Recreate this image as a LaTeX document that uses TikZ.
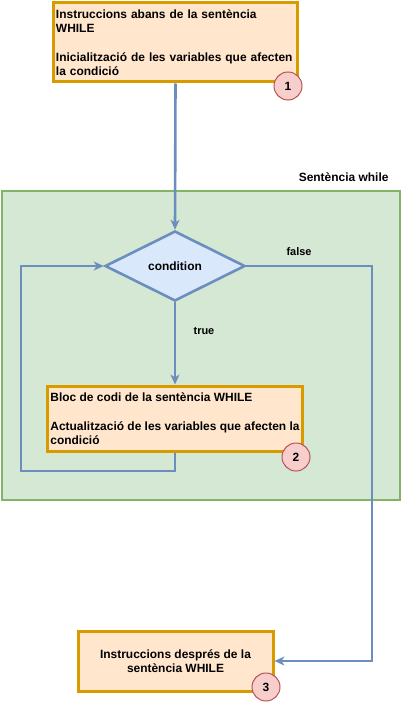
\documentclass[tikz,border=0pt]{standalone}
\usepackage{fontspec}
\setmainfont{Liberation Sans}
\usetikzlibrary{shapes.geometric,arrows.meta}

\definecolor{instrfill}{HTML}{FFE6CC}
\definecolor{instrline}{HTML}{D79B00}
\definecolor{condfill}{HTML}{DAE8FC}
\definecolor{flowline}{HTML}{6C8EBF}
\definecolor{loopfill}{HTML}{D5E8D4}
\definecolor{loopline}{HTML}{82B366}
\definecolor{badgefill}{HTML}{F8CECC}
\definecolor{badgeline}{HTML}{B85450}

\begin{document}
\begin{tikzpicture}[x=1bp,y=-1bp,
  every node/.style={font=\bfseries\fontsize{12}{14.4}\selectfont},
  instr/.style={rectangle,draw=instrline,fill=instrfill,line width=3bp,inner sep=2bp},
  cond/.style={diamond,draw=flowline,fill=condfill,line width=2.6bp,aspect=2,
    minimum width=140bp,minimum height=70bp,inner sep=0pt},
  badge/.style={circle,draw=badgeline,fill=badgefill,line width=1bp,minimum size=28bp,inner sep=0pt},
  lbl/.style={font=\bfseries\fontsize{11}{13}\selectfont},
  flow/.style={draw=flowline,line width=2.6bp,-{Stealth[length=10bp,width=9bp,inset=3bp]}}]
\useasboundingbox (0,0) rectangle (402,702);

% while block
\node[rectangle,draw=loopline,fill=loopfill,line width=2.6bp,minimum width=398bp,minimum height=309bp] (while) at (201,345.5) {};
\node[anchor=east] (whilelbl) at (392,177) {Sentència while};

% instructions and condition
\node[instr,minimum width=243bp,minimum height=79bp,text width=239bp,align=left] (init) at (175.5,42.5)
  {Instruccions abans de la sentència\\WHILE\\[14.4bp]Inicialització de les variables que afecten\\la condició};
\node[badge] (one) at (288,86) {1};

\node[cond] (cond) at (175,266) {condition};

\node[instr,minimum width=254bp,minimum height=65bp,inner sep=0.5bp,align=left] (body) at (175,418.5)
  {Bloc de codi de la sentència WHILE\\[14.4bp]Actualització de les variables que afecten la\\condició};
\node[badge] (two) at (296,457) {2};

\node[instr,minimum width=195bp,minimum height=60bp,align=center] (after) at (175.5,661)
  {Instruccions després de la\\sentència WHILE};
\node[badge] (three) at (266,687) {3};

% connectors
\coordinate (exitx) at (372,266);
\coordinate (backx) at (21,471);
\draw[flow] (init.south) -- (cond.north);
\draw[flow] (cond.south) -- node[lbl,pos=0.35,right=14bp] (truelbl) {true} (body.north);
\draw[flow] (cond.east) -- (exitx) |- (after.east);
\node[lbl] (falselbl) at (299,252) {false};
\draw[flow] (body.south) |- (backx) |- (cond.west);
\end{tikzpicture}
\end{document}
